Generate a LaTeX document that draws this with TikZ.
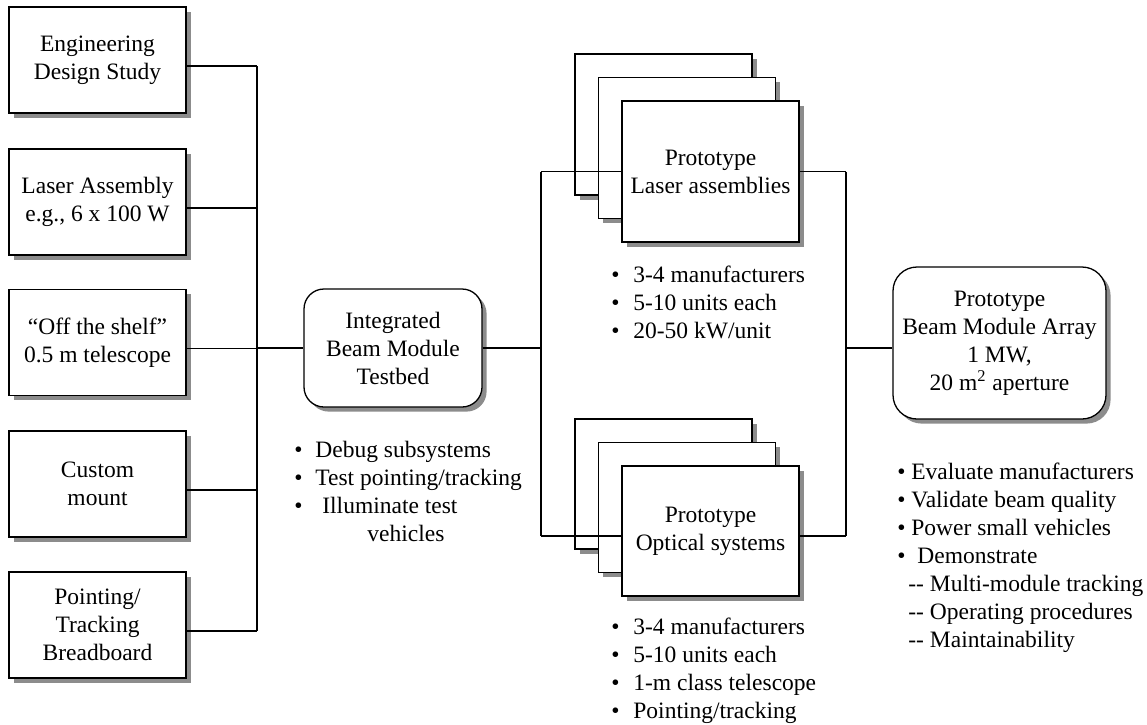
\documentclass[tikz,border=0pt]{standalone}
\usepackage{fontspec}
\setmainfont{Liberation Serif}
\usetikzlibrary{shadows}
\definecolor{shadowgray}{gray}{0.55}
\begin{document}
\begin{tikzpicture}[x=0.5pt,y=-0.5pt,
  font=\fontsize{11.75}{14}\selectfont,
  sbox/.style={draw, fill=white, line width=0.65pt, align=center, inner sep=0pt,
    drop shadow={shadow xshift=2.3pt, shadow yshift=-2.3pt, fill=shadowgray, opacity=1}},
  lbox/.style={sbox, minimum width=88.5pt, minimum height=53pt},
  rbox/.style={sbox, rounded corners=10pt},
  stk/.style={sbox, minimum width=88.5pt},
  conn/.style={draw, line width=0.55pt},
  txt/.style={anchor=base west, inner sep=0pt}]
\useasboundingbox (0,0) rectangle (1147,724);

% left column
\node[lbox] (b1) at (97.5,60)    {Engineering\\Design Study};
\node[lbox] (b2) at (97.5,202)   {Laser Assembly\\e.g., 6 x 100 W};
\node[lbox] (b3) at (97.5,342.5) {“Off the shelf”\\0.5 m telescope};
\node[lbox] (b4) at (97.5,484)   {Custom\\mount};
\node[lbox] (b5) at (97.5,625)   {Pointing/\\Tracking\\Breadboard};

% integrated testbed
\node[rbox, minimum width=89pt, minimum height=59pt] (ibm) at (393,348) {Integrated\\Beam Module\\Testbed};

% laser stack
\node[stk, minimum height=70.5pt] (L1) at (663.5,124.5) {};
\node[stk, minimum height=70.5pt] (L2) at (687,148) {};
\node[stk, minimum height=70.5pt] (L3) at (710.5,171.5) {Prototype\\Laser assemblies};

% optical stack
\node[stk, minimum height=65pt] (O1) at (663.5,484) {};
\node[stk, minimum height=65pt] (O2) at (687,507.5) {};
\node[stk, minimum height=65pt] (O3) at (710.5,531) {Prototype\\Optical systems};

% beam module array
\node[sbox, rounded corners=12pt, minimum width=106.5pt, minimum height=76pt] (pbm) at (999.5,343)
  {Prototype\\Beam Module Array\\1 MW,\\20 m\textsuperscript{2} aperture};

% buses
\coordinate (busL) at (257,348);
\coordinate (busM) at (541,348);
\coordinate (busR) at (846,348);

\foreach \n in {b1,b2,b3,b4,b5}
  \draw[conn] ([yshift=-3pt]\n.east) -- ([yshift=-3pt]\n.east -| busL);
\draw[conn] ([yshift=-3pt]b1.east -| busL) -- ([yshift=-3pt]b5.east -| busL);
\draw[conn] (busL) -- (ibm.west);

\draw[conn] (ibm.east) -- (busM);
\draw[conn] (busM |- L3.west) -- (L3.west);
\draw[conn] ([yshift=-2.5pt]O3.west -| busM) -- ([yshift=-2.5pt]O3.west);
\draw[conn] (busM |- L3.west) -- ([yshift=-2.5pt]O3.west -| busM);

\draw[conn] (L3.east) -- (L3.east -| busR);
\draw[conn] ([yshift=-2.5pt]O3.east) -- ([yshift=-2.5pt]O3.east -| busR);
\draw[conn] (L3.east -| busR) -- ([yshift=-2.5pt]O3.east -| busR);
\draw[conn] (busR) -- (busR -| pbm.west);

% integrated bullets
\node[txt] (i1) at (294,457) {\makebox[10.5pt][l]{\textbullet}Debug subsystems};
\node[txt] (i2) at (294,485) {\makebox[10.5pt][l]{\textbullet}Test pointing/tracking};
\node[txt] (i3) at (294,513) {\makebox[14pt][l]{\textbullet}Illuminate test};
\node[txt] (i4) at (367,541) {vehicles};

% laser bullets
\node[txt] (l1) at (611,282) {\makebox[11pt][l]{\textbullet}3-4 manufacturers};
\node[txt] (l2) at (611,310) {\makebox[11pt][l]{\textbullet}5-10 units each};
\node[txt] (l3) at (611,338) {\makebox[11pt][l]{\textbullet}20-50 kW/unit};

% optical bullets
\node[txt] (o1) at (611,634) {\makebox[11pt][l]{\textbullet}3-4 manufacturers};
\node[txt] (o2) at (611,662) {\makebox[11pt][l]{\textbullet}5-10 units each};
\node[txt] (o3) at (611,690) {\makebox[11pt][l]{\textbullet}1-m class telescope};
\node[txt] (o4) at (611,718) {\makebox[11pt][l]{\textbullet}Pointing/tracking};

% right bullets
\node[txt] (r1) at (897,479) {\makebox[7pt][l]{\textbullet}Evaluate manufacturers};
\node[txt] (r2) at (897,507) {\makebox[7pt][l]{\textbullet}Validate beam quality};
\node[txt] (r3) at (897,535) {\makebox[7pt][l]{\textbullet}Power small vehicles};
\node[txt] (r4) at (897,563) {\makebox[10pt][l]{\textbullet}Demonstrate};
\node[txt] (r5) at (908,591) {\mbox{-}\mbox{-} Multi-module tracking};
\node[txt] (r6) at (908,619) {\mbox{-}\mbox{-} Operating procedures};
\node[txt] (r7) at (908,647) {\mbox{-}\mbox{-} Maintainability};
\end{tikzpicture}
\end{document}
